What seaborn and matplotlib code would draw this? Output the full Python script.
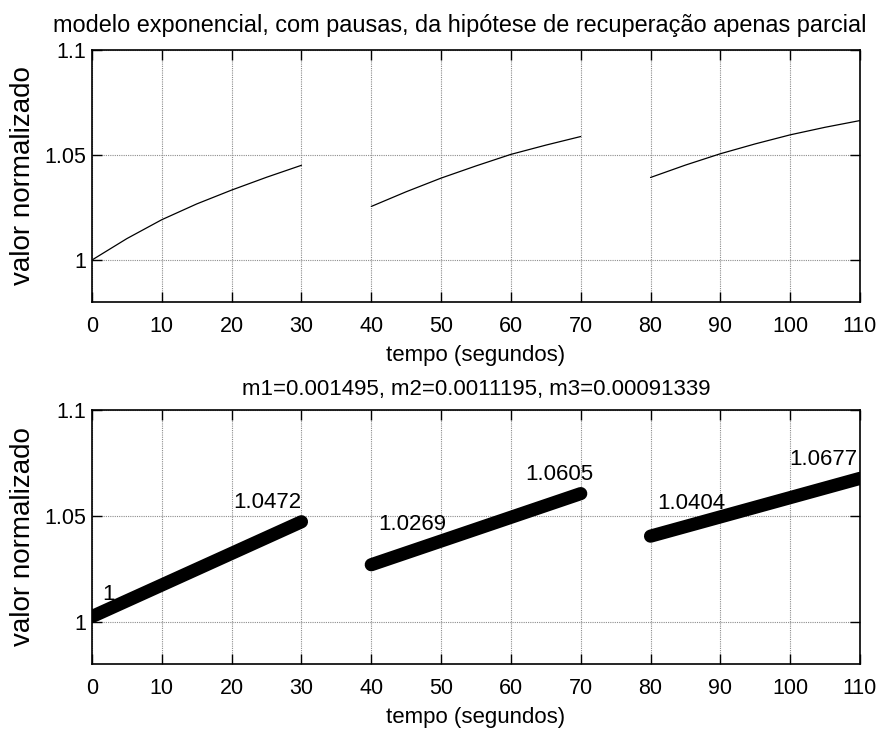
import matplotlib
matplotlib.use("Agg")
import matplotlib.pyplot as plt
import seaborn as sns
import pandas as pd

# ---- data ----
t_seg1 = [0, 5, 10, 15, 20, 25, 30]
v_seg1 = [1.0000, 1.0102, 1.0192, 1.0267, 1.0333, 1.0394, 1.0451]
t_seg2 = [40, 45, 50, 55, 60, 65, 70]
v_seg2 = [1.0255, 1.0325, 1.0390, 1.0448, 1.0503, 1.0547, 1.0588]
t_seg3 = [80, 85, 90, 95, 100, 105, 110]
v_seg3 = [1.0393, 1.0452, 1.0506, 1.0553, 1.0596, 1.0632, 1.0664]

fit_t1 = [0, 30]
fit_v1 = [1.0024, 1.0472]
fit_t2 = [40, 70]
fit_v2 = [1.0269, 1.0605]
fit_t3 = [80, 110]
fit_v3 = [1.0404, 1.0677]

label_texts = ["1", "1.0472", "1.0269", "1.0605", "1.0404", "1.0677"]
label_x = [1.4, 20.2, 41.0, 62.0, 81.0, 99.8]
label_y = [1.0127, 1.0561, 1.0458, 1.0693, 1.0557, 1.0764]

slopes = ["0.001495", "0.0011195", "0.00091339"]
xticks = list(range(0, 111, 10))
yticks = [1.0, 1.05, 1.1]
ytick_labels = ["1", "1.05", "1.1"]

title_top = "modelo exponencial, com pausas, da hipótese de recuperação apenas parcial"
xlabel = "tempo (segundos)"
ylabel = "valor normalizado"

sns.set_style("white")
FONT = ["Liberation Sans", "DejaVu Sans"]
plt.rcParams["font.family"] = FONT
plt.rcParams["text.color"] = "black"
plt.rcParams["axes.labelcolor"] = "black"
plt.rcParams["xtick.color"] = "black"
plt.rcParams["ytick.color"] = "black"

top = pd.concat([
    pd.DataFrame({"t": t_seg1, "v": v_seg1, "seg": 1}),
    pd.DataFrame({"t": t_seg2, "v": v_seg2, "seg": 2}),
    pd.DataFrame({"t": t_seg3, "v": v_seg3, "seg": 3}),
])
bot = pd.concat([
    pd.DataFrame({"t": fit_t1, "v": fit_v1, "seg": 1}),
    pd.DataFrame({"t": fit_t2, "v": fit_v2, "seg": 2}),
    pd.DataFrame({"t": fit_t3, "v": fit_v3, "seg": 3}),
])

fig = plt.figure(figsize=(8.8, 7.29), dpi=100)
W, H = 880, 729
def rect(l, t, r, b):
    return [l / W, 1 - b / H, (r - l) / W, (b - t) / H]

ax1 = fig.add_axes(rect(92, 50, 860, 302))
ax2 = fig.add_axes(rect(92, 410, 860, 664))

sns.lineplot(data=top, x="t", y="v", units="seg", estimator=None,
             color="black", lw=0.9, ax=ax1, legend=False)
for s, d in bot.groupby("seg"):
    sns.lineplot(data=d, x="t", y="v", color="black", lw=9.5,
                 solid_capstyle="round", ax=ax2, legend=False)

for txt, x, y in zip(label_texts, label_x, label_y):
    ax2.text(x, y, txt, ha="left", va="center", fontsize=16, color="black")

for ax in (ax1, ax2):
    ax.set_xlim(0, 110)
    ax.set_ylim(0.98, 1.1)
    ax.set_xticks(xticks)
    ax.set_yticks(yticks)
    ax.set_yticklabels(ytick_labels)
    ax.grid(True, color="#8c8c8c", linestyle=(0, (1, 1)), lw=0.8)
    ax.tick_params(direction="in", length=7, width=1, top=True, right=True,
                   bottom=True, left=True, colors="black")
    ax.tick_params(axis="x", labelsize=15.5, pad=10)
    ax.tick_params(axis="y", labelsize=15.5, pad=4)
    for sp in ax.spines.values():
        sp.set_color("black")
        sp.set_linewidth(1.2)
        sp.set_visible(True)
    ax.set_xlabel(xlabel, fontsize=16, labelpad=6, color="black")
    ax.set_ylabel(ylabel, fontsize=20, labelpad=6, color="black")

ax1.set_title(title_top, fontsize=16.9, pad=13, x=(460 - 92) / 768,
              color="black")
ax2.set_title("m1=%s, m2=%s, m3=%s" % tuple(slopes), fontsize=16, pad=11,
              color="black")

fig.savefig("out.png", dpi=100, facecolor="white")
